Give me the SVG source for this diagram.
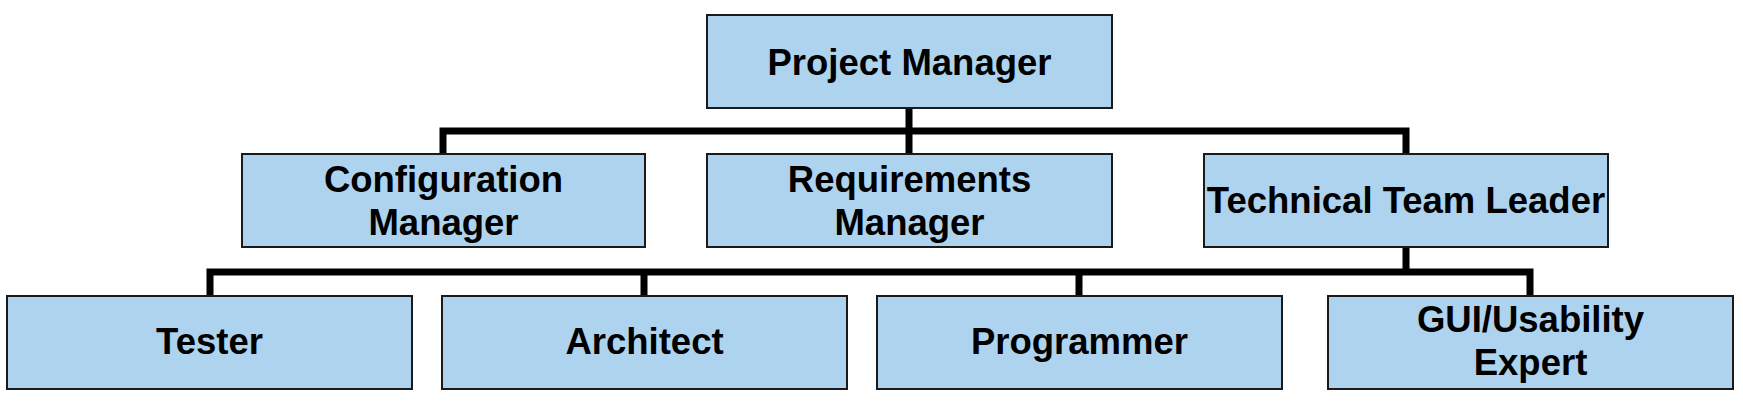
<svg xmlns="http://www.w3.org/2000/svg" width="1743" height="409" viewBox="0 0 1743 409">
<style>
.box{fill:#aed3ef;stroke:#1a1a1a;stroke-width:2}
.lbl{font-family:"Liberation Sans",Arial,sans-serif;font-weight:bold;font-size:36.5px;fill:#000;text-anchor:middle}
.conn{stroke:#000;stroke-width:7;fill:none;stroke-linecap:square}
</style>
<rect width="1743" height="409" fill="#fff"/>
<g id="connectors">
<path class="conn" d="M909 109V153M443 131H1406M443 131V153M1406 131V153"/>
<path class="conn" d="M1406 248V272M210 272H1530M210 272V295M644 272V295M1079 272V295M1530 272V295"/>
</g>
<g id="project-manager"><rect class="box" x="707" y="15" width="405" height="93"/><text class="lbl" x="909.5" y="75">Project Manager</text></g>
<g id="configuration-manager"><rect class="box" x="242" y="154" width="403" height="93"/><text class="lbl" x="443.5" y="192">Configuration</text><text class="lbl" x="443.5" y="235">Manager</text></g>
<g id="requirements-manager"><rect class="box" x="707" y="154" width="405" height="93"/><text class="lbl" x="909.5" y="192">Requirements</text><text class="lbl" x="909.5" y="235">Manager</text></g>
<g id="technical-team-leader"><rect class="box" x="1204" y="154" width="404" height="93"/><text class="lbl" x="1406" y="213">Technical Team Leader</text></g>
<g id="tester"><rect class="box" x="7" y="296" width="405" height="93"/><text class="lbl" x="209.5" y="354">Tester</text></g>
<g id="architect"><rect class="box" x="442" y="296" width="405" height="93"/><text class="lbl" x="644.5" y="354">Architect</text></g>
<g id="programmer"><rect class="box" x="877" y="296" width="405" height="93"/><text class="lbl" x="1079.5" y="354">Programmer</text></g>
<g id="gui-usability-expert"><rect class="box" x="1328" y="296" width="405" height="93"/><text class="lbl" x="1530.5" y="332">GUI/Usability</text><text class="lbl" x="1530.5" y="375">Expert</text></g>
</svg>
